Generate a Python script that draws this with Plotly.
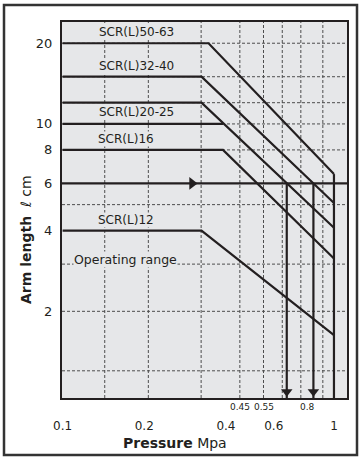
import math
import plotly.graph_objects as go

# ---------------- data ----------------
# Pressure [MPa] / arm length [cm] break points of each operating-range curve
p_50_63 = [0.1, 0.345, 1.0]
arm_50_63 = [20, 20, 6.5]
p_32_40 = [0.1, 0.325, 1.0]
arm_32_40 = [15, 15, 5.07]
p_20_25_a = [0.1, 0.325, 1.0]
arm_20_25_a = [12, 12, 4.1]
p_20_25_b = [0.1, 0.39]
arm_20_25_b = [10, 10]
p_16 = [0.1, 0.39, 1.0]
arm_16 = [8, 8, 3.15]
p_12 = [0.1, 0.325, 1.0]
arm_12 = [4, 4, 1.63]

max_pressure = 1.0            # vertical limit line
example_arm = 6               # example arm length (arrow line)
example_drop_pressure = [0.67, 0.84]   # where the 6 cm line meets 20-25 and 32-40
example_arrow_pressure = 0.30

label_text = ["SCR(L)50-63", "SCR(L)32-40", "SCR(L)20-25", "SCR(L)16", "SCR(L)12"]
label_level = [20, 15, 12, 8, 4]
label_shift = [11, 11, -9, 11, 11]
label_xpx = [136, 136, 136, 126, 126]

pressure_ticks = [0.1, 0.2, 0.4, 0.6, 1]
pressure_tick_text = ["0.1", "0.2", "0.4", "0.6", "1"]
pressure_marks = [0.45, 0.55, 0.8]
arm_ticks = [2, 4, 6, 8, 10, 20]

grid_pressure = [0.143, 0.207, 0.324, 0.45, 0.55, 0.645, 0.755, 0.91]
grid_arm = [20, 15, 12, 10, 8, 5, 3, 2, 1.2]

# ---------------- layout constants ----------------
W, H = 361, 459
L_M, R_M, T_M, B_M = 62, 14, 22, 61
PW, PH = W - L_M - R_M, H - T_M - B_M
X_MIN, X_MAX = 0.0995, 1.117
Y_MIN, Y_MAX = 0.95, 24
INK = "#231f20"
FONT = "DejaVu Sans"
BG = "#e6e7e9"


def px_x(px):
    return (px - L_M) / PW


def px_y(py):
    return (T_M + PH - py) / PH


fig = go.Figure()

# gridlines (below traces); shape coordinates on log axes are data values here
shapes = []
for v in grid_pressure:
    shapes.append(dict(type="line", xref="x", yref="paper", x0=v, x1=v,
                       y0=0, y1=1, layer="below",
                       line=dict(color="#4d4d4d", width=1, dash="3px,2px")))
for v in grid_arm:
    shapes.append(dict(type="line", xref="paper", yref="y", x0=0, x1=1,
                       y0=v, y1=v, layer="below",
                       line=dict(color="#4d4d4d", width=1, dash="3px,2px")))
# outer frame of the figure
shapes.append(dict(type="rect", xref="paper", yref="paper",
                   x0=px_x(4), x1=px_x(357), y0=px_y(455), y1=px_y(5),
                   line=dict(color="#333333", width=2.5), layer="above"))

curves = [
    ("SCR(L)50-63", p_50_63, arm_50_63),
    ("SCR(L)32-40", p_32_40, arm_32_40),
    ("SCR(L)20-25", p_20_25_a, arm_20_25_a),
    ("SCR(L)20-25", p_20_25_b, arm_20_25_b),
    ("SCR(L)16", p_16, arm_16),
    ("SCR(L)12", p_12, arm_12),
]
for name, xs, ys in curves:
    fig.add_trace(go.Scatter(x=xs, y=ys, mode="lines", name=name, showlegend=False,
                             line=dict(color=INK, width=2.2), hoverinfo="skip"))

# maximum pressure limit (vertical from the top curve end to the axis)
fig.add_trace(go.Scatter(x=[max_pressure, max_pressure], y=[arm_50_63[-1], Y_MIN],
                         mode="lines", showlegend=False, hoverinfo="skip",
                         line=dict(color=INK, width=2.2)))

# example 6 cm line with arrow
fig.add_trace(go.Scatter(x=[X_MIN, X_MAX], y=[example_arm, example_arm], mode="lines",
                         showlegend=False, hoverinfo="skip", line=dict(color=INK, width=2.2)))
fig.add_trace(go.Scatter(x=[example_arrow_pressure], y=[example_arm], mode="markers",
                         showlegend=False, hoverinfo="skip",
                         marker=dict(symbol="triangle-right", size=11, color=INK)))
for p in example_drop_pressure:
    fig.add_trace(go.Scatter(x=[p, p], y=[example_arm, Y_MIN], mode="lines",
                             showlegend=False, hoverinfo="skip",
                             line=dict(color=INK, width=2.2)))
fig.add_trace(go.Scatter(x=example_drop_pressure, y=[Y_MIN * 1.055] * len(example_drop_pressure),
                         mode="markers", showlegend=False, hoverinfo="skip",
                         marker=dict(symbol="triangle-down", size=10, color=INK)))

annotations = []
for t, lv, sh, xp in zip(label_text, label_level, label_shift, label_xpx):
    annotations.append(dict(text=t, xref="paper", yref="y", x=px_x(xp), y=math.log10(lv),
                            yshift=sh, showarrow=False, xanchor="center", yanchor="middle",
                            bgcolor=BG, borderpad=0,
                            font=dict(family=FONT, size=12, color=INK)))
annotations.append(dict(text="Operating range", xref="paper", yref="y", x=px_x(125),
                        y=math.log10(3), yshift=5, showarrow=False, xanchor="center",
                        yanchor="middle", bgcolor=BG, borderpad=0,
                        font=dict(family=FONT, size=12.5, color=INK)))
for v in pressure_marks:
    annotations.append(dict(text=str(v), xref="x", yref="paper", x=math.log10(v), y=px_y(407),
                            showarrow=False, xanchor="center", yanchor="middle",
                            font=dict(family=FONT, size=9, color=INK)))
annotations.append(dict(text="<b>Pressure</b> Mpa", xref="paper", yref="paper",
                        x=px_x(175), y=px_y(443), showarrow=False, xanchor="center",
                        yanchor="middle", font=dict(family=FONT, size=14, color=INK)))
annotations.append(dict(text="<b>Arm length</b>  <i>ℓ</i> cm", xref="paper", yref="paper",
                        x=px_x(26), y=px_y(240), showarrow=False, textangle=-90,
                        xanchor="center", yanchor="middle",
                        font=dict(family=FONT, size=14, color=INK)))

fig.update_layout(
    width=W, height=H,
    margin=dict(l=L_M, r=R_M, t=T_M, b=B_M, pad=0),
    paper_bgcolor="white", plot_bgcolor=BG,
    shapes=shapes, annotations=annotations,
    font=dict(family=FONT, color=INK),
)
fig.update_xaxes(type="log", range=[math.log10(X_MIN), math.log10(X_MAX)],
                 tickmode="array", tickvals=pressure_ticks, ticktext=pressure_tick_text,
                 showgrid=False, zeroline=False, showline=True, mirror=True,
                 linecolor=INK, linewidth=2, ticks="outside", ticklen=16,
                 tickcolor="rgba(0,0,0,0)", tickfont=dict(family=FONT, size=12, color=INK))
fig.update_yaxes(type="log", range=[math.log10(Y_MIN), math.log10(Y_MAX)],
                 tickmode="array", tickvals=arm_ticks, ticktext=[str(v) for v in arm_ticks],
                 showgrid=False, zeroline=False, showline=True, mirror=True,
                 linecolor=INK, linewidth=2, ticks="outside", ticklen=5,
                 tickcolor="rgba(0,0,0,0)", tickfont=dict(family=FONT, size=13, color=INK))

fig.write_html("out.html", config={"displayModeBar": False},
               post_script="document.body.style.margin='0';document.body.style.overflow='hidden';")
